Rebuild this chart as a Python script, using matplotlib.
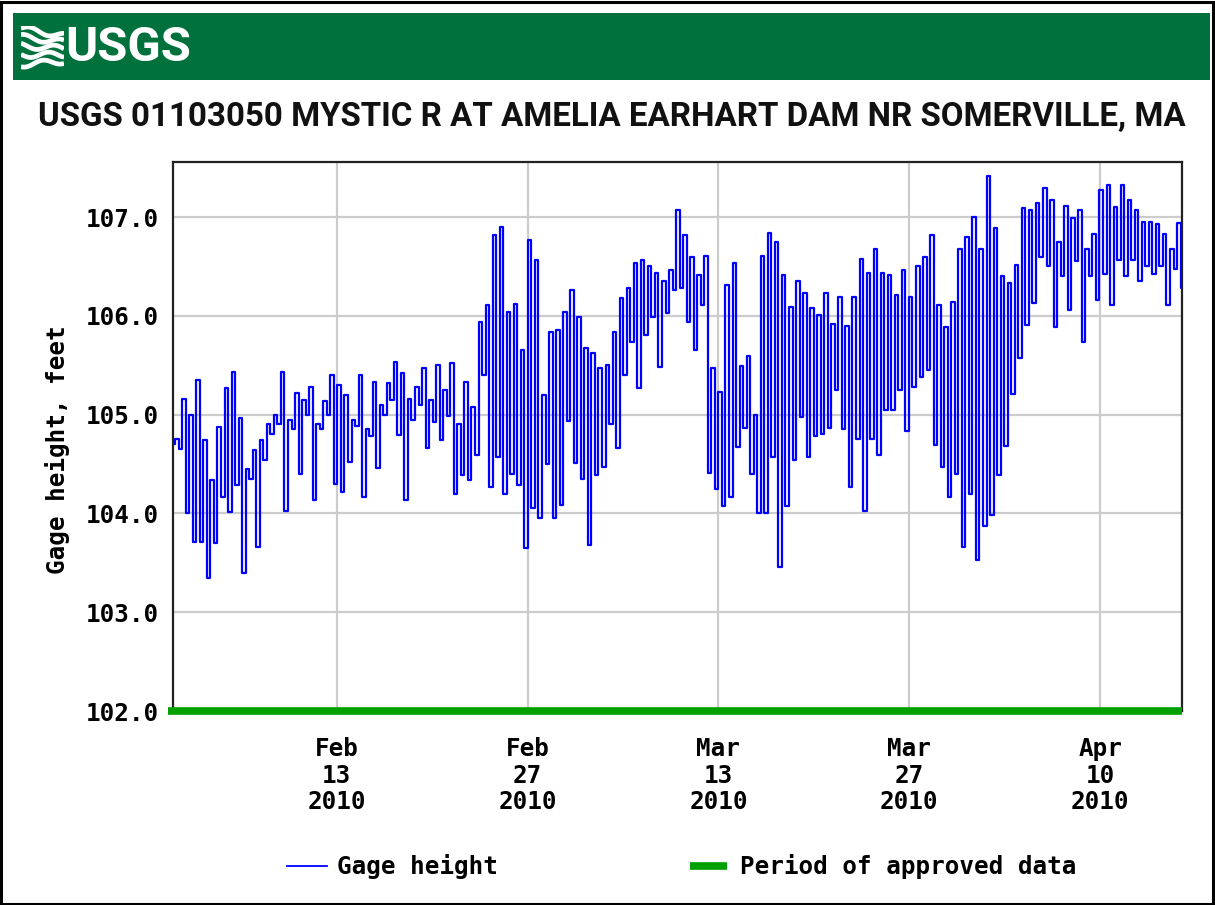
import matplotlib
matplotlib.use('Agg')
import matplotlib.pyplot as plt
import matplotlib.dates as mdates
from matplotlib.patches import Rectangle
from matplotlib.lines import Line2D
import numpy as np
from datetime import datetime

# ---------------- data ----------------
title = "USGS 01103050 MYSTIC R AT AMELIA EARHART DAM NR SOMERVILLE, MA"
y_label = "Gage height, feet"
start_date = datetime(2010, 2, 1)
end_date = datetime(2010, 4, 16)
tick_dates = [datetime(2010, 2, 13), datetime(2010, 2, 27), datetime(2010, 3, 13),
              datetime(2010, 3, 27), datetime(2010, 4, 10)]
tick_labels = ["Feb\n13\n2010", "Feb\n27\n2010", "Mar\n13\n2010", "Mar\n27\n2010", "Apr\n10\n2010"]
y_ticks = [102.0, 103.0, 104.0, 105.0, 106.0, 107.0]
first_value = 104.70
last_value = 106.30

# tidal-cycle highs and lows (one pair per ~12.4 h cycle)
highs = [
    # Feb 1 - Feb 13
    104.75, 105.16, 105.00, 105.35, 104.74, 104.34, 104.87, 105.27, 105.43, 104.97, 104.45, 104.64,
    104.74, 104.90, 105.00, 105.43, 104.95, 105.22, 105.15, 105.28, 104.91, 105.14, 105.40, 105.30,
    # Feb 13 - Feb 25
    105.20, 104.95, 105.40, 104.85, 105.33, 105.10, 105.32, 105.53, 105.42, 105.16, 105.28, 105.47,
    105.15, 105.50, 105.25, 105.52, 104.91, 105.33, 105.08, 105.94, 106.11, 106.82, 106.90,
    # Feb 25 - Mar 10
    106.04, 106.12, 105.65, 106.77, 106.56, 105.20, 105.84, 105.86, 106.04, 106.26, 105.99, 105.67,
    105.62, 105.47, 105.50, 105.84, 106.18, 106.28, 106.53, 106.56, 106.50, 106.43, 106.35, 106.46, 107.07,
    # Mar 10 - Mar 22
    106.82, 106.60, 106.41, 106.61, 105.47, 105.23, 106.31, 106.53, 105.49, 105.59, 105.00, 106.61,
    106.84, 106.75, 106.41, 106.09, 106.35, 106.23, 106.08, 106.01, 106.23, 105.92, 106.19, 105.90,
    # Mar 22 - Apr 3
    106.19, 106.58, 106.43, 106.68, 106.43, 106.41, 106.21, 106.46, 106.19, 106.50, 106.60, 106.82,
    106.11, 105.89, 106.14, 106.68, 106.80, 107.00, 106.68, 107.42, 106.89, 106.40, 106.33, 106.51, 107.09,
    # Apr 3 - Apr 16
    107.07, 107.14, 107.29, 107.17, 106.75, 107.11, 106.99, 107.07, 106.68, 106.83, 107.27,
    107.32, 107.10, 107.32, 107.17, 107.07, 106.95, 106.95, 106.93, 106.83, 106.68, 106.94,
]
lows = [
    104.65, 104.00, 103.71, 103.71, 103.35, 103.70, 104.17, 104.01, 104.29, 103.40, 104.35, 103.66,
    104.54, 104.80, 104.90, 104.02, 104.85, 104.40, 105.00, 104.14, 104.85, 105.00, 104.30, 104.22,
    104.52, 104.88, 104.17, 104.78, 104.46, 105.00, 105.15, 104.79, 104.14, 104.95, 105.10, 104.66,
    104.93, 104.74, 104.99, 104.20, 104.39, 104.34, 104.59, 105.40, 104.27, 104.57, 104.20,
    104.40, 104.29, 103.65, 104.05, 103.95, 104.50, 103.95, 104.09, 104.94, 104.51, 104.35, 103.68,
    104.39, 104.47, 104.90, 104.66, 105.40, 105.74, 105.27, 105.81, 105.99, 105.48, 106.03, 106.26, 106.28,
    105.94, 105.65, 106.11, 104.41, 104.25, 104.08, 104.17, 104.67, 104.86, 104.40, 104.00, 104.00,
    104.57, 103.46, 104.08, 104.54, 104.98, 104.57, 104.78, 104.80, 104.86, 105.25, 104.85, 104.27,
    104.75, 104.02, 104.75, 104.59, 105.05, 105.05, 105.25, 104.83, 105.28, 105.38, 105.45, 104.69,
    104.47, 104.17, 104.40, 103.66, 104.20, 103.53, 103.87, 103.98, 104.39, 104.68, 105.21, 105.57, 105.91,
    106.13, 106.60, 106.50, 105.89, 106.40, 106.06, 106.55, 105.74, 106.40, 106.16, 106.42,
    106.11, 106.57, 106.40, 106.57, 106.35, 106.50, 106.42, 106.50, 106.11, 106.47, 106.28,
]

# ---------------- build the time series ----------------
n_cycles = len(highs)
t0 = mdates.date2num(start_date)
t1 = mdates.date2num(end_date)
period = (t1 - t0) / n_cycles
times = [t0]
vals = [first_value]
for i, (h, l) in enumerate(zip(highs, lows)):
    times += [t0 + (i + 0.30) * period, t0 + (i + 0.80) * period]
    vals += [h, l]
times.append(t1)
vals.append(last_value)

# ---------------- figure ----------------
W, H = 1215, 905
fig = plt.figure(figsize=(W / 100, H / 100), dpi=100)
fig.patch.set_facecolor('white')
renderer = fig.canvas.get_renderer()


def fx(px):
    return px / W


def fy(py):
    return 1 - py / H


def fit_text(txt, target_px):
    """shrink a text until it is at most target_px wide"""
    for _ in range(30):
        w = txt.get_window_extent(renderer).width
        if w <= target_px:
            break
        txt.set_fontsize(txt.get_fontsize() * target_px / w * 0.995)


# outer border
fig.patches.append(Rectangle((0.001, 0.001), 0.997, 0.997, transform=fig.transFigure,
                             fill=False, ec='black', lw=2.2))
# green header band
fig.patches.append(Rectangle((fx(13), fy(80)), fx(1210) - fx(13), fy(13) - fy(80),
                             transform=fig.transFigure, fc='#00703C', ec='none', zorder=0.5))

# wave logo
lax = fig.add_axes([fx(21), fy(71), fx(64) - fx(21), fy(26) - fy(71)], zorder=3)
lax.set_xlim(0, 1)
lax.set_ylim(0, 1)
lax.axis('off')
u = np.linspace(0, 1, 60)
for k, (y0, y1) in enumerate([(0.95, 0.78), (0.76, 0.64), (0.56, 0.50), (0.36, 0.36), (0.14, 0.22)]):
    wave = y0 + (y1 - y0) * u + 0.06 * np.sin(u * 2 * np.pi * 1.2 + k)
    lax.plot(u, wave, color='white', lw=3.4, solid_capstyle='butt')

usgs = fig.text(fx(65), fy(48), "USGS", color='white', fontsize=42, fontweight='bold',
                fontstretch='condensed', family=['Roboto', 'DejaVu Sans'],
                ha='left', va='center', zorder=3)
fit_text(usgs, 127)

ttl = fig.text(fx(612), fy(117), title, color='#111111', fontsize=27, fontweight='bold',
               fontstretch='condensed', family=['Roboto', 'DejaVu Sans'],
               ha='center', va='center')
fit_text(ttl, 1155)

FS = 17.5
mono = {'family': 'DejaVu Sans Mono', 'weight': 'bold', 'size': FS}

ax = fig.add_axes([fx(173), fy(711), fx(1182) - fx(173), fy(162) - fy(711)])
ax.set_xlim(t0, t1)
ax.set_ylim(102.0, 107.557)
ax.set_yticks(y_ticks)
ax.set_yticklabels([f"{v:.1f}" for v in y_ticks], fontdict=mono)
ax.set_xticks([mdates.date2num(d) for d in tick_dates])
ax.set_xticklabels(tick_labels, fontdict=mono, linespacing=1.12)
ax.tick_params(axis='both', length=0)
ax.tick_params(axis='x', pad=19)
ax.tick_params(axis='y', pad=10.5)
ax.grid(True, color='#cccccc', lw=1.6)
ax.set_axisbelow(True)
for s in ax.spines.values():
    s.set_linewidth(1.6)
    s.set_color('#222222')

ax.plot(times, vals, color='#0000ff', lw=1.6, drawstyle='steps-post', zorder=3)
ax.plot([t0 - 0.35, t1], [102.0, 102.0], color='#00a000', lw=5.5, clip_on=False,
        solid_capstyle='butt', zorder=4)

fig.text(fx(58), fy(450), y_label, rotation=90, ha='center', va='center',
         family='DejaVu Sans Mono', fontweight='bold', fontsize=FS)

# legend
fig.lines.append(Line2D([fx(287), fx(327)], [fy(866), fy(866)], transform=fig.transFigure,
                        color='#0000ff', lw=1.3))
fig.text(fx(337), fy(866), "Gage height", ha='left', va='center',
         family='DejaVu Sans Mono', fontweight='bold', fontsize=FS)
fig.lines.append(Line2D([fx(690), fx(727)], [fy(866), fy(866)], transform=fig.transFigure,
                        color='#00a000', lw=5.5, solid_capstyle='butt'))
fig.text(fx(740), fy(866), "Period of approved data", ha='left', va='center',
         family='DejaVu Sans Mono', fontweight='bold', fontsize=FS)

fig.savefig('out.png', dpi=100)
